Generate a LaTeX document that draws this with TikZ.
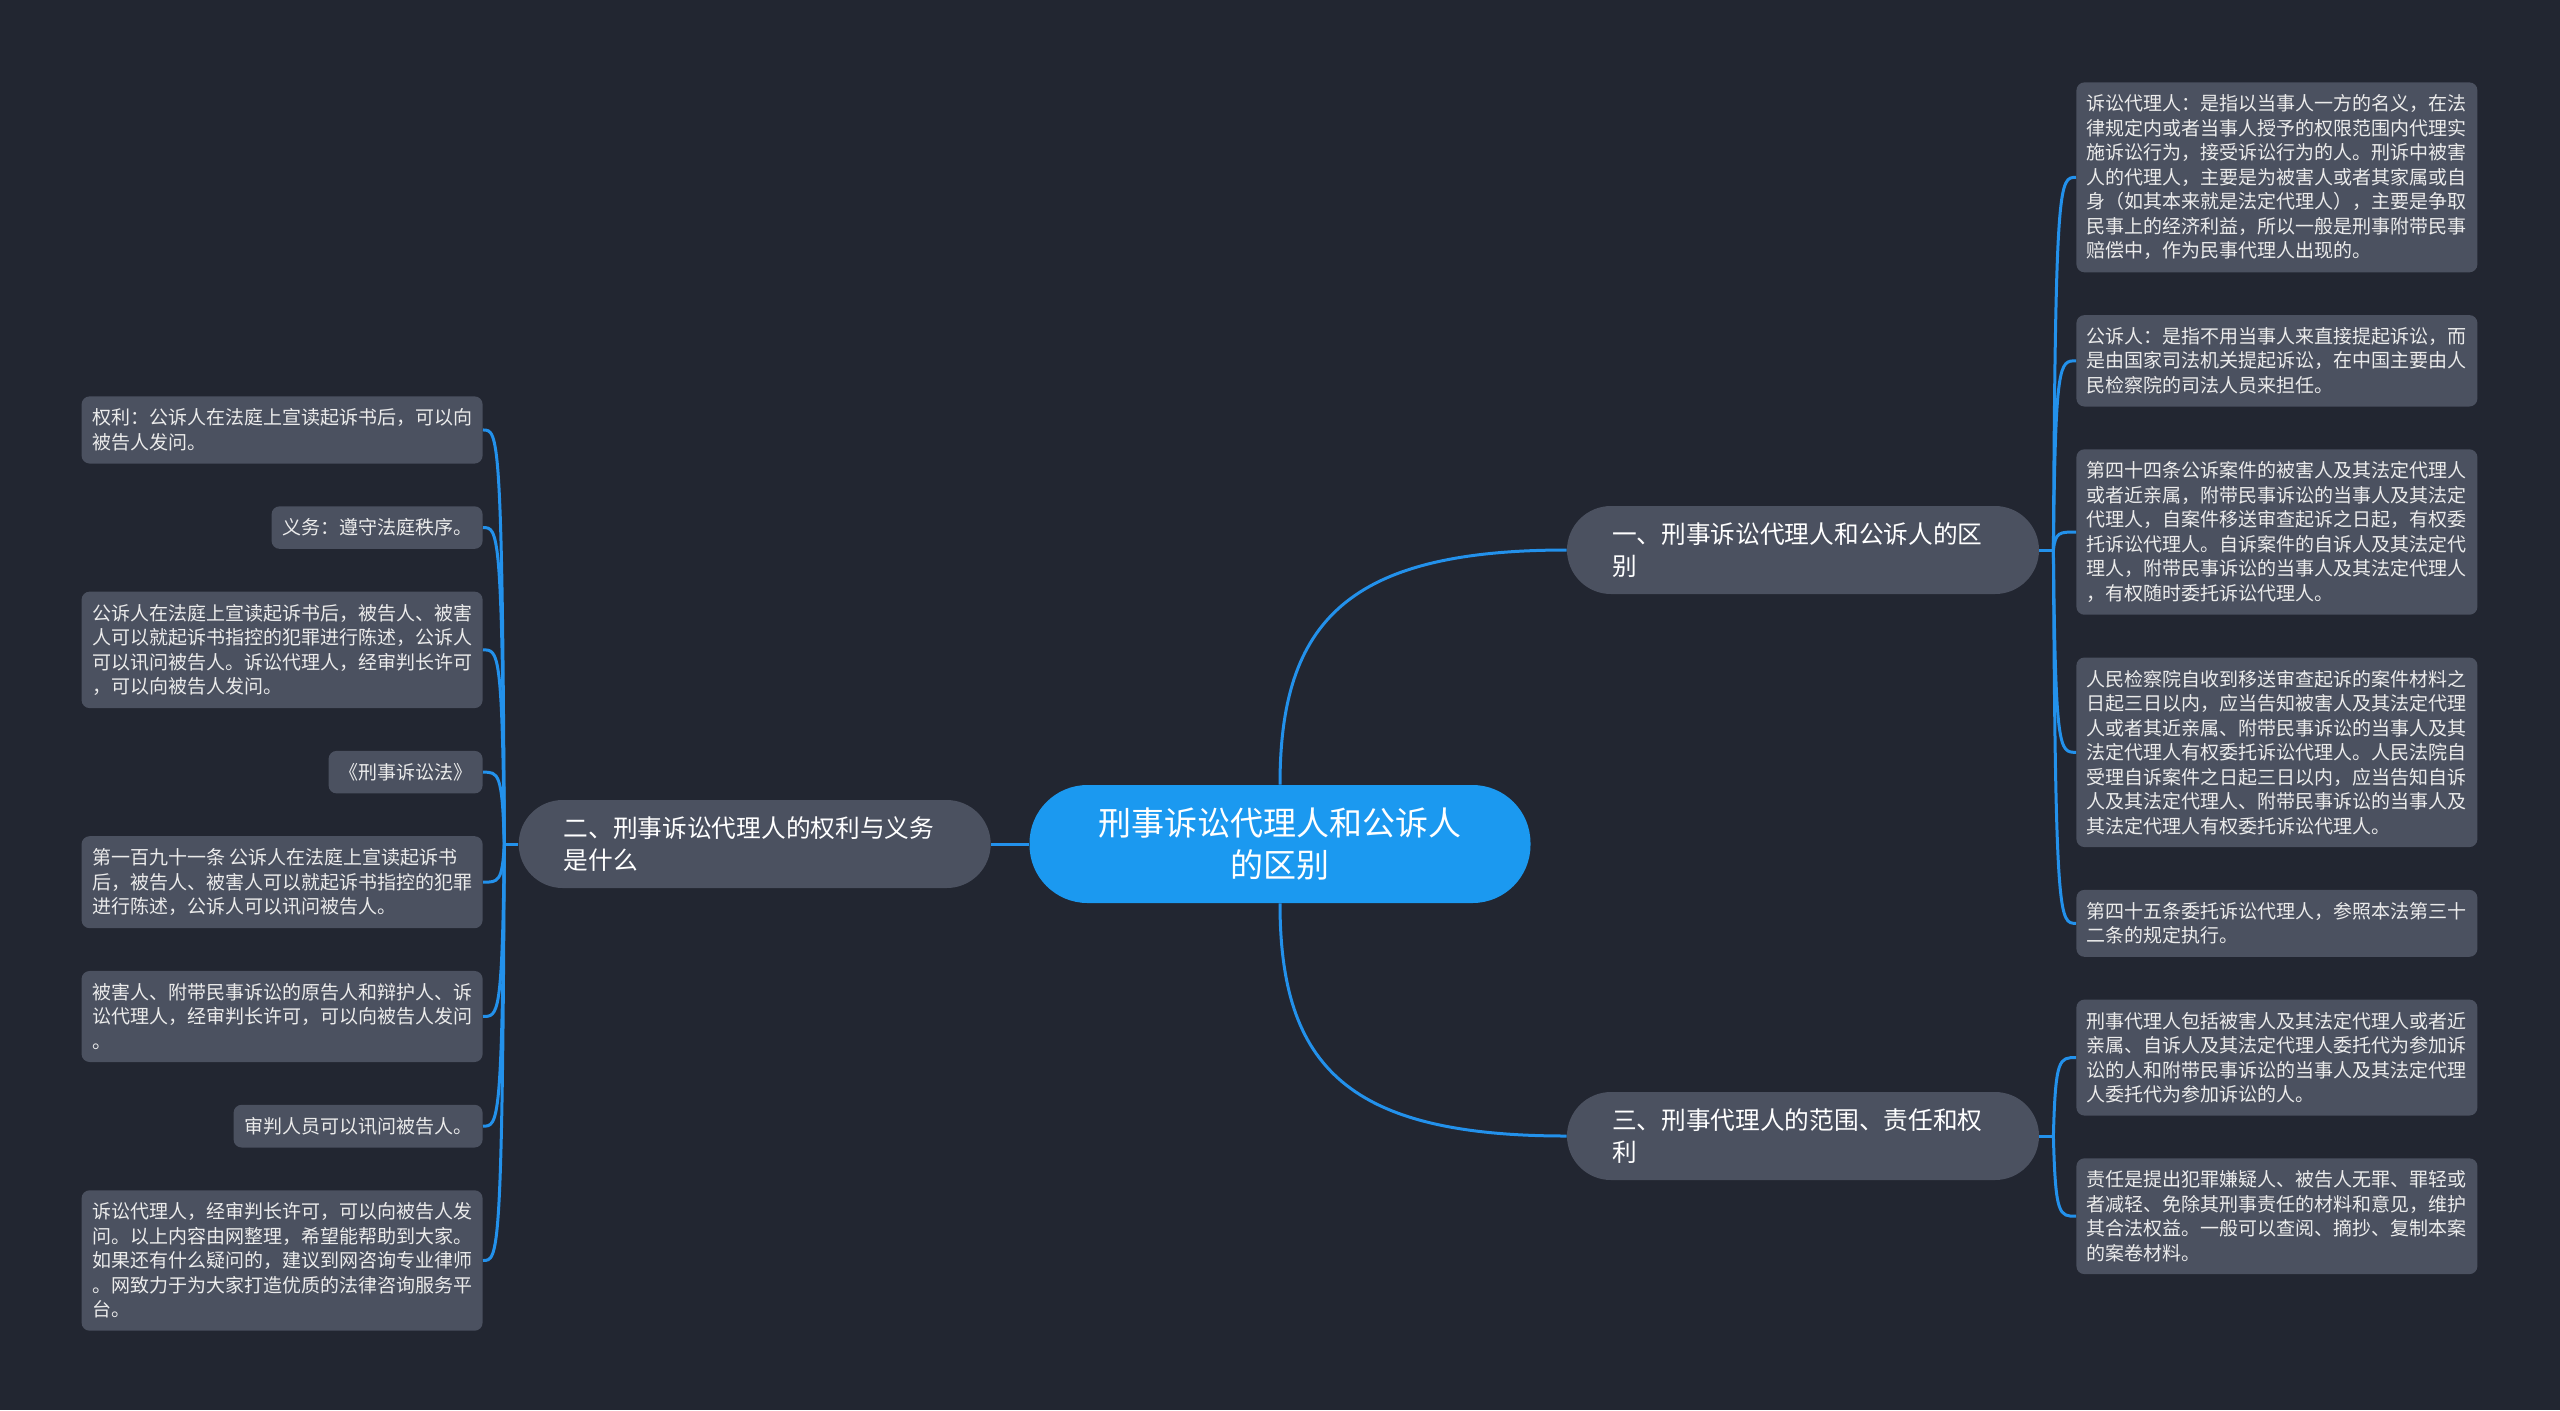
\documentclass[tikz,border=0pt]{standalone}
\usepackage{fontspec}
\usepackage{tikz}
\usepackage{xcolor}
\usetikzlibrary{positioning,calc}
\newfontfamily\cjk{Noto Sans CJK SC}
\definecolor{bgc}{RGB}{34,38,49}
\definecolor{boxc}{RGB}{75,81,96}
\definecolor{rootblue}{RGB}{27,153,240}
\definecolor{linkblue}{RGB}{35,145,235}

\begin{document}
\begin{tikzpicture}[x=0.5pt,y=-0.5pt,font=\cjk,
  root/.style={fill=rootblue,text=white,rounded corners=29pt,inner sep=0pt,align=center,
    minimum width=250.5pt,minimum height=59pt,font=\cjk\fontsize{16.5}{21.2}\selectfont},
  branch/.style={fill=boxc,text=white,rounded corners=22pt,inner sep=0pt,align=left,
    text width=191pt,minimum width=236pt,minimum height=44pt,font=\cjk\fontsize{12.35}{15.8}\selectfont},
  leaf/.style={fill=boxc,text=white!92!black,rounded corners=4pt,align=left,
    inner xsep=5.25pt,inner ysep=6.2pt,font=\cjk\fontsize{9.5}{12.25}\selectfont},
  link/.style={draw=linkblue,line width=1.5pt},
  rto/.style={to path={.. controls ($(\tikztostart |- \tikztotarget)+(2,0)$) and ($(\tikztostart |- \tikztotarget)+(6,0)$) .. (\tikztotarget)}},
  lto/.style={to path={.. controls ($(\tikztostart |- \tikztotarget)+(-2,0)$) and ($(\tikztostart |- \tikztotarget)+(-6,0)$) .. (\tikztotarget)}}]
  \fill[bgc] (0,0) rectangle (2560,1410);
  \node[root] (ctr) at (1280,844) {刑事诉讼代理人和公诉人\\的区别};
  \node[branch] (b1) at (1803,550) {一、刑事诉讼代理人和公诉人的区\\别};
  \node[branch] (b3) at (1803,1136) {三、刑事代理人的范围、责任和权\\利};
  \node[branch,left=19pt of ctr] (b2) {二、刑事诉讼代理人的权利与义务\\是什么};
  \node[leaf,anchor=north west] (r1) at (2076,82)
    {诉讼代理人：是指以当事人一方的名义，在法\\律规定内或者当事人授予的权限范围内代理实\\施诉讼行为，接受诉讼行为的人。刑诉中被害\\人的代理人，主要是为被害人或者其家属或自\\身（如其本来就是法定代理人），主要是争取\\民事上的经济利益，所以一般是刑事附带民事\\赔偿中，作为民事代理人出现的。};
  \node[leaf,below=21pt of r1.south west,anchor=north west] (r2)
    {公诉人：是指不用当事人来直接提起诉讼，而\\是由国家司法机关提起诉讼，在中国主要由人\\民检察院的司法人员来担任。};
  \node[leaf,below=21pt of r2.south west,anchor=north west] (r3)
    {第四十四条公诉案件的被害人及其法定代理人\\或者近亲属，附带民事诉讼的当事人及其法定\\代理人，自案件移送审查起诉之日起，有权委\\托诉讼代理人。自诉案件的自诉人及其法定代\\理人，附带民事诉讼的当事人及其法定代理人\\，有权随时委托诉讼代理人。};
  \node[leaf,below=21pt of r3.south west,anchor=north west] (r4)
    {人民检察院自收到移送审查起诉的案件材料之\\日起三日以内，应当告知被害人及其法定代理\\人或者其近亲属、附带民事诉讼的当事人及其\\法定代理人有权委托诉讼代理人。人民法院自\\受理自诉案件之日起三日以内，应当告知自诉\\人及其法定代理人、附带民事诉讼的当事人及\\其法定代理人有权委托诉讼代理人。};
  \node[leaf,below=21pt of r4.south west,anchor=north west] (r5)
    {第四十五条委托诉讼代理人，参照本法第三十\\二条的规定执行。};
  \node[leaf,below=21pt of r5.south west,anchor=north west] (r6)
    {刑事代理人包括被害人及其法定代理人或者近\\亲属、自诉人及其法定代理人委托代为参加诉\\讼的人和附带民事诉讼的当事人及其法定代理\\人委托代为参加诉讼的人。};
  \node[leaf,below=21pt of r6.south west,anchor=north west] (r7)
    {责任是提出犯罪嫌疑人、被告人无罪、罪轻或\\者减轻、免除其刑事责任的材料和意见，维护\\其合法权益。一般可以查阅、摘抄、复制本案\\的案卷材料。};
  \node[leaf,anchor=north east] (l1) at (483,396)
    {权利：公诉人在法庭上宣读起诉书后，可以向\\被告人发问。};
  \node[leaf,below=21pt of l1.south east,anchor=north east] (l2) {义务：遵守法庭秩序。};
  \node[leaf,below=21pt of l2.south east,anchor=north east] (l3)
    {公诉人在法庭上宣读起诉书后，被告人、被害\\人可以就起诉书指控的犯罪进行陈述，公诉人\\可以讯问被告人。诉讼代理人，经审判长许可\\，可以向被告人发问。};
  \node[leaf,below=21pt of l3.south east,anchor=north east] (l4) {《刑事诉讼法》};
  \node[leaf,below=21pt of l4.south east,anchor=north east] (l5)
    {第一百九十一条 公诉人在法庭上宣读起诉书\\后，被告人、被害人可以就起诉书指控的犯罪\\进行陈述，公诉人可以讯问被告人。};
  \node[leaf,below=21pt of l5.south east,anchor=north east] (l6)
    {被害人、附带民事诉讼的原告人和辩护人、诉\\讼代理人，经审判长许可，可以向被告人发问\\。};
  \node[leaf,below=21pt of l6.south east,anchor=north east] (l7) {审判人员可以讯问被告人。};
  \node[leaf,below=21pt of l7.south east,anchor=north east] (l8)
    {诉讼代理人，经审判长许可，可以向被告人发\\问。以上内容由网整理，希望能帮助到大家。\\如果还有什么疑问的，建议到网咨询专业律师\\。网致力于为大家打造优质的法律咨询服务平\\台。};
  \coordinate (h1) at ($(b1.east)+(14,0)$);
  \coordinate (h3) at ($(b3.east)+(14,0)$);
  \coordinate (h2) at ($(b2.west)+(-14,0)$);
  \draw[link] (ctr.west) -- (b2.east);
  \draw[link] (ctr.north) .. controls +(0,-165) and +(-217,0) .. (b1.west);
  \draw[link] (ctr.south) .. controls +(0,165) and +(-217,0) .. (b3.west);
  \draw[link] (b1.east) -- (h1); \draw[link] (b3.east) -- (h3); \draw[link] (b2.west) -- (h2);
  \draw[link,rto] (h1) to (r1.west); \draw[link,rto] (h1) to (r2.west); \draw[link,rto] (h1) to (r3.west);
  \draw[link,rto] (h1) to (r4.west); \draw[link,rto] (h1) to (r5.west);
  \draw[link,rto] (h3) to (r6.west); \draw[link,rto] (h3) to (r7.west);
  \draw[link,lto] (h2) to (l1.east); \draw[link,lto] (h2) to (l2.east); \draw[link,lto] (h2) to (l3.east);
  \draw[link,lto] (h2) to (l4.east); \draw[link,lto] (h2) to (l5.east); \draw[link,lto] (h2) to (l6.east);
  \draw[link,lto] (h2) to (l7.east); \draw[link,lto] (h2) to (l8.east);
\end{tikzpicture}
\end{document}
